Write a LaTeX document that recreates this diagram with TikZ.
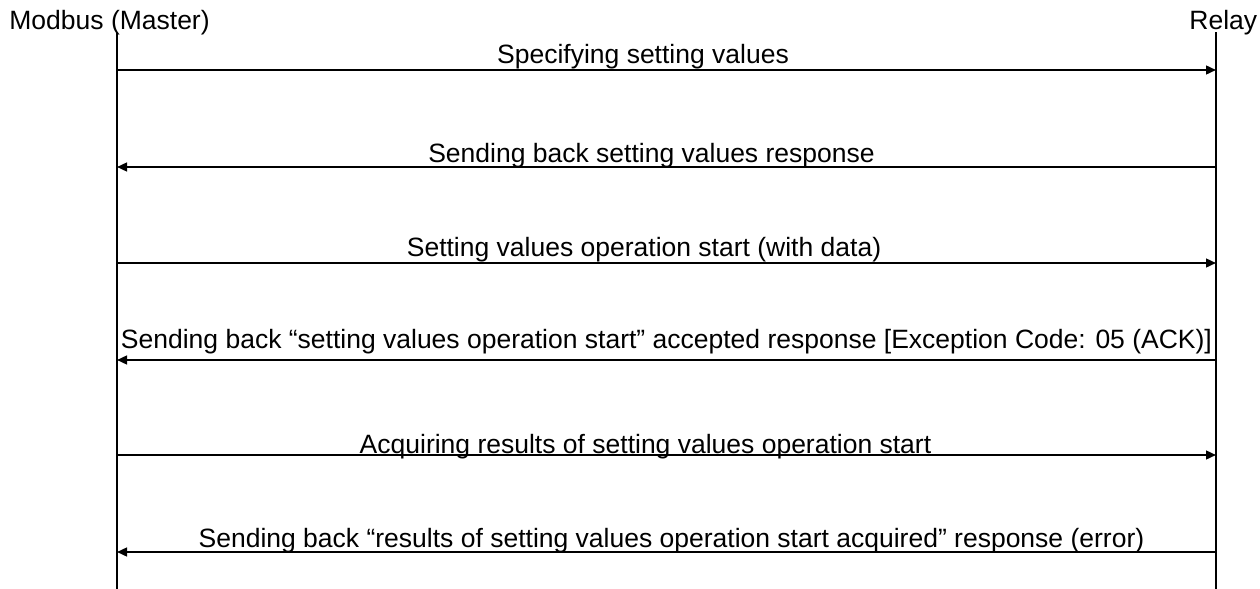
\documentclass[tikz,border=0pt]{standalone}
\usepackage{fontspec}
\setmainfont{Liberation Sans}
\usetikzlibrary{arrows.meta}
\begin{document}
\begin{tikzpicture}[x=0.5pt,y=-0.5pt,
  txt/.style={inner sep=0pt,font=\fontsize{13.25pt}{15pt}\selectfont},
  lifeline/.style={line width=0.8pt},
  msg/.style={line width=1pt,-{Triangle[length=5pt,width=4.4pt]}}]
\useasboundingbox (0,0) rectangle (1260,589);
% participants
\node[txt,anchor=base west] (master) at (9,30) {Modbus (Master)};
\node[txt,anchor=base west] (relay) at (1189,30) {Relay};
\coordinate (mTop) at (117,32);
\coordinate (mBot) at (117,589);
\coordinate (rTop) at (1216,32);
\coordinate (rBot) at (1216,589);
\draw[lifeline] (mTop) -- (mBot);
\draw[lifeline] (rTop) -- (rBot);
% message end points on the lifelines
\foreach \i/\y in {1/70,2/167,3/263,4/360,5/455,6/552}{
  \coordinate (m\i) at (117,\y);
  \coordinate (r\i) at (1216,\y);
}
% messages
\draw[msg] (m1) -- (r1);
\draw[msg] (r2) -- (m2);
\draw[msg] (m3) -- (r3);
\draw[msg] (r4) -- (m4);
\draw[msg] (m5) -- (r5);
\draw[msg] (r6) -- (m6);
% message labels
\node[txt,anchor=base] (l1) at (643,63) {Specifying setting values};
\node[txt,anchor=base] (l2) at (651.5,162) {Sending back setting values response};
\node[txt,anchor=base] (l3) at (644,256) {Setting values operation start (with data)};
\node[txt,anchor=base] (l4) at (666.5,348) {Sending back “setting values operation start” accepted response [Exception Code: 05 (ACK)]};
\node[txt,anchor=base] (l5) at (645.5,453) {Acquiring results of setting values operation start};
\node[txt,anchor=base] (l6) at (671.5,547) {Sending back “results of setting values operation start acquired” response (error)};
\end{tikzpicture}
\end{document}
